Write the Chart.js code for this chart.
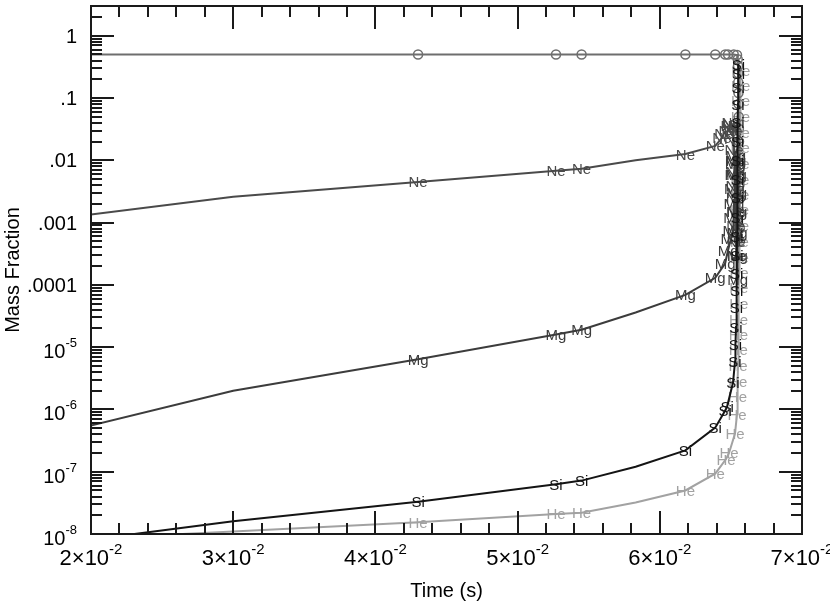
<!DOCTYPE html>
<html>
<head>
<meta charset="utf-8">
<title>Mass Fraction vs Time</title>
<script src="https://cdn.jsdelivr.net/npm/chart.js@4.4.1/dist/chart.umd.min.js"></script>
<style>
  html, body { margin: 0; padding: 0; background: #fff; }
  #wrap { width: 830px; height: 603px; }
</style>
</head>
<body>
<div id="wrap"><canvas id="chart" width="830" height="603"></canvas></div>
<script>
// axis ticks
const xTickValues = [0.02, 0.03, 0.04, 0.05, 0.06, 0.07];
const xTickMantissa = ['2', '3', '4', '5', '6', '7'];
const xTickExponent = '-2';
const yTickValues = [1, 0.1, 0.01, 0.001, 0.0001, 1e-5, 1e-6, 1e-7, 1e-8];
const yTickText = ['1', '.1', '.01', '.001', '.0001', '10', '10', '10', '10'];
const yTickSup = ['', '', '', '', '', '-5', '-6', '-7', '-8'];

// O
const timeO = [0.015, 0.030, 0.0430, 0.0527, 0.0545, 0.0583, 0.0618, 0.0639, 0.0646, 0.0648, 0.0652, 0.06543,
  0.06548, 0.06550, 0.06551, 0.06552, 0.06553, 0.06554, 0.06555, 0.06556, 0.06557, 0.06558, 0.06559, 0.06560,
  0.06561, 0.06562, 0.06563, 0.06564];
const massO = [0.5, 0.5, 0.5, 0.5, 0.5, 0.5, 0.5, 0.5, 0.5, 0.5, 0.5, 0.49,
  0.42, 0.33, 0.25, 0.18, 0.12, 0.08, 0.05, 0.032, 0.02, 0.012, 0.007, 0.004,
  0.0024, 0.0014, 0.0008, 0.0005];
const markO = [0, 0, 1, 1, 1, 0, 1, 1, 1, 1, 1, 1, 1, 1, 1, 1, 1, 1, 1, 1, 1, 1, 1, 1, 1, 1, 1, 1];

// Ne
const timeNe = [0.015, 0.030, 0.0430, 0.0527, 0.0545, 0.0583, 0.0618, 0.0639, 0.06437, 0.06451, 0.0648,
  0.06494, 0.06501, 0.06508, 0.06515, 0.06519, 0.06522, 0.06525, 0.06527, 0.06529, 0.06531, 0.06533,
  0.06535, 0.06537, 0.06539];
const massNe = [9.7e-4, 2.6e-3, 4.5e-3, 6.8e-3, 7.3e-3, 0.0100, 0.0126, 0.017, 0.023, 0.027, 0.030,
  0.036, 0.040, 0.038, 0.030, 0.022, 0.015, 0.010, 0.0065, 0.004, 0.0025, 0.0015,
  0.0009, 0.0005, 0.0003];
const markNe = [0, 0, 1, 1, 1, 0, 1, 1, 1, 1, 1, 1, 1, 1, 1, 1, 1, 1, 1, 1, 1, 1, 1, 1, 1];

// Mg
const timeMg = [0.015, 0.030, 0.0430, 0.0527, 0.0545, 0.0583, 0.0618, 0.0639, 0.06459, 0.0648, 0.06501,
  0.06515, 0.06519, 0.06522, 0.06525, 0.06528, 0.0653, 0.06533, 0.06536, 0.06538, 0.0654, 0.06542,
  0.06544, 0.06546, 0.06548];
const massMg = [2.9e-7, 2.0e-6, 6.4e-6, 1.6e-5, 1.9e-5, 3.6e-5, 6.9e-5, 1.3e-4, 2.2e-4, 3.6e-4, 5.6e-4,
  7.5e-4, 1.2e-3, 2e-3, 3.5e-3, 6e-3, 9e-3, 0.012, 0.01, 0.006, 0.003, 0.0015,
  0.0007, 0.0003, 0.00012];
const markMg = [0, 0, 1, 1, 1, 0, 1, 1, 1, 1, 1, 1, 1, 1, 1, 1, 1, 1, 1, 1, 1, 1, 1, 1, 1];

// Si
const timeSi = [0.015, 0.030, 0.0430, 0.0527, 0.0545, 0.0583, 0.0618, 0.0639, 0.06459, 0.06473, 0.06515,
  0.06529, 0.06532, 0.06536, 0.06538, 0.0654, 0.06541, 0.06542, 0.06543, 0.06544, 0.06545, 0.06546,
  0.06547, 0.06548, 0.06549, 0.0655, 0.06551, 0.06552, 0.06553];
const massSi = [5.8e-9, 1.6e-8, 3.3e-8, 6.3e-8, 7.2e-8, 1.2e-7, 2.2e-7, 5.1e-7, 9.5e-7, 1.1e-6, 2.7e-6,
  5.9e-6, 1.1e-5, 2.1e-5, 4.3e-5, 8e-5, 1.5e-4, 3e-4, 6e-4, 1.2e-3, 2.5e-3, 5e-3,
  0.01, 0.02, 0.04, 0.08, 0.15, 0.25, 0.35];
const markSi = [0, 0, 1, 1, 1, 0, 1, 1, 1, 1, 1, 1, 1, 1, 1, 1, 1, 1, 1, 1, 1, 1, 1, 1, 1, 1, 1, 1, 1];

// He
const timeHe = [0.015, 0.030, 0.0430, 0.0527, 0.0545, 0.0583, 0.0618, 0.0639, 0.06466, 0.06487, 0.06529,
  0.06543, 0.06546, 0.06548, 0.0655, 0.06552, 0.06553, 0.06554, 0.06555, 0.06556, 0.06557, 0.06558,
  0.06559, 0.0656, 0.06561, 0.06562, 0.06563, 0.06564, 0.06565, 0.06566, 0.06567, 0.06568, 0.06569, 0.0657];
const massHe = [7.4e-9, 1.1e-8, 1.55e-8, 2.1e-8, 2.2e-8, 3.2e-8, 5.0e-8, 9.3e-8, 1.6e-7, 2.0e-7, 4.1e-7,
  8.4e-7, 1.6e-6, 2.8e-6, 5e-6, 9e-6, 1.6e-5, 2.8e-5, 5e-5, 9e-5, 1.6e-4, 2.8e-4,
  5e-4, 9e-4, 1.6e-3, 2.8e-3, 5e-3, 9e-3, 0.016, 0.028, 0.05, 0.09, 0.16, 0.28];
const markHe = [0, 0, 1, 1, 1, 0, 1, 1, 1, 1, 1, 1, 1, 1, 1, 1, 1, 1, 1, 1, 1, 1, 1, 1, 1, 1, 1, 1, 1, 1, 1, 1, 1, 1];

const FONT = '"Liberation Sans", Arial, Helvetica, sans-serif';

function series(name, t, v, marks, color) {
  const isO = name === 'O';
  return {
    label: name,
    data: t.map((tt, i) => ({ x: tt, y: v[i] })),
    borderColor: color,
    borderWidth: 2,
    tension: 0,
    fill: false,
    clip: 0,
    pointStyle: 'circle',
    pointRadius: isO ? marks.map(m => (m ? 4.5 : 0)) : 0,
    pointBorderColor: color,
    pointBackgroundColor: 'rgba(0,0,0,0)',
    pointBorderWidth: 1.5,
    markText: isO ? null : name,
    marks
  };
}

// species names written at the marked points, right after each dataset
const markerPlugin = {
  id: 'speciesMarkers',
  afterDatasetDraw(chart, args) {
    const ds = chart.data.datasets[args.index];
    if (!ds.markText) return;
    const { ctx, chartArea: a } = chart;
    ctx.save();
    ctx.beginPath();
    ctx.rect(a.left, a.top, a.right - a.left, a.bottom - a.top);
    ctx.clip();
    ctx.font = '15px ' + FONT;
    ctx.fillStyle = ds.borderColor;
    ctx.textAlign = 'center';
    ctx.textBaseline = 'alphabetic';
    args.meta.data.forEach((pt, i) => {
      if (ds.marks[i]) ctx.fillText(ds.markText, pt.x, pt.y + 5.5);
    });
    ctx.restore();
  }
};

// frame, inward ticks on all four sides, tick labels, axis titles
const framePlugin = {
  id: 'frameTicks',
  afterDraw(chart) {
    const { ctx, chartArea: a, scales: { x, y } } = chart;
    ctx.save();
    ctx.strokeStyle = '#1a1a1a';
    ctx.lineWidth = 2;
    ctx.beginPath();
    for (let i = 0; i <= 25; i++) {
      const px = Math.round(x.getPixelForValue(0.02 + i * 0.002));
      const len = i % 5 === 0 ? 23 : 11;
      ctx.moveTo(px, a.bottom); ctx.lineTo(px, a.bottom - len);
      ctx.moveTo(px, a.top); ctx.lineTo(px, a.top + len);
    }
    for (let e = -8; e <= 0; e++) {
      for (let m = 1; m <= 9; m++) {
        const v = m * Math.pow(10, e);
        if (v > y.max) break;
        const py = Math.round(y.getPixelForValue(v));
        const len = m === 1 ? 23 : 11;
        ctx.moveTo(a.left, py); ctx.lineTo(a.left + len, py);
        ctx.moveTo(a.right, py); ctx.lineTo(a.right - len, py);
      }
    }
    ctx.stroke();
    ctx.strokeRect(a.left, a.top, a.right - a.left, a.bottom - a.top);

    ctx.fillStyle = '#000';
    // y labels
    yTickValues.forEach((v, i) => {
      const py = y.getPixelForValue(v);
      const right = a.left - 14;
      ctx.textBaseline = 'alphabetic';
      if (!yTickSup[i]) {
        ctx.font = '20px ' + FONT;
        ctx.textAlign = 'right';
        ctx.fillText(yTickText[i], right, py + 7);
      } else {
        ctx.font = '13px ' + FONT;
        const sw = ctx.measureText(yTickSup[i]).width;
        ctx.textAlign = 'left';
        ctx.fillText(yTickSup[i], right - sw, py);
        ctx.font = '20px ' + FONT;
        ctx.textAlign = 'right';
        ctx.fillText(yTickText[i], right - sw, py + 11);
      }
    });
    // x labels
    xTickValues.forEach((v, i) => {
      const px = x.getPixelForValue(v);
      const base = xTickMantissa[i] + '\u00d710';
      ctx.font = '22px ' + FONT;
      const bw = ctx.measureText(base).width;
      ctx.font = '15px ' + FONT;
      const sw = ctx.measureText(xTickExponent).width;
      const left = px - (bw + sw) / 2;
      ctx.textAlign = 'left';
      ctx.textBaseline = 'alphabetic';
      ctx.font = '22px ' + FONT;
      ctx.fillText(base, left, a.bottom + 31);
      ctx.font = '15px ' + FONT;
      ctx.fillText(xTickExponent, left + bw, a.bottom + 20);
    });
    // axis titles
    ctx.font = '20px ' + FONT;
    ctx.textAlign = 'center';
    ctx.textBaseline = 'alphabetic';
    ctx.fillText('Time (s)', (a.left + a.right) / 2, 597);
    ctx.translate(19, (a.top + a.bottom) / 2);
    ctx.rotate(-Math.PI / 2);
    ctx.fillText('Mass Fraction', 0, 0);
    ctx.restore();
  }
};

const datasets = [
  series('Si', timeSi, massSi, markSi, '#141414'),
  series('Mg', timeMg, massMg, markMg, '#3c3c3c'),
  series('Ne', timeNe, massNe, markNe, '#4a4a4a'),
  series('O', timeO, massO, markO, '#6e6e6e'),
  series('He', timeHe, massHe, markHe, '#a2a2a2')
];

new Chart(document.getElementById('chart').getContext('2d'), {
  type: 'line',
  data: { datasets },
  options: {
    responsive: false,
    animation: false,
    devicePixelRatio: 1,
    events: [],
    layout: { padding: { left: 91, right: 28, top: 2, bottom: 69 } },
    plugins: { legend: { display: false }, tooltip: { enabled: false } },
    scales: {
      x: { type: 'linear', min: 0.02, max: 0.07, display: false },
      y: { type: 'logarithmic', min: 1e-8, max: 3, display: false }
    }
  },
  plugins: [markerPlugin, framePlugin]
});
</script>
</body>
</html>
